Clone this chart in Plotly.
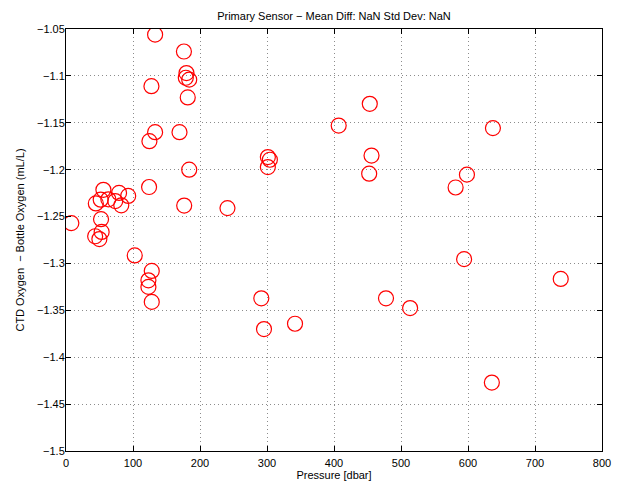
import plotly.graph_objects as go

pressure = [8, 44.5, 55.8, 51.8, 63.2, 79.2, 73.5, 82.5, 92.8, 52.3, 43.5, 53.2, 49.8,
            102.6, 124, 124.5, 183.9, 176.4, 128, 123, 123, 128,
            133, 176, 179.8, 178.8, 183.9, 127.5, 181.7, 133, 169.4,
            453.4, 407, 637.2, 301.3, 304.3, 301.3, 456, 452.5, 598.4, 581.5, 241,
            594.2, 291.5, 477.6, 513.6, 295.5, 341.8, 635.6, 738.4]
diff = [-1.257, -1.236, -1.2215, -1.232, -1.2316, -1.2248, -1.2335, -1.238, -1.228,
        -1.2528, -1.271, -1.2664, -1.274,
        -1.2915, -1.2185, -1.1696, -1.2, -1.2383, -1.308, -1.318, -1.325, -1.341,
        -1.056, -1.074, -1.097, -1.102, -1.104, -1.111, -1.123, -1.160, -1.160,
        -1.1298, -1.153, -1.1557, -1.1866, -1.1894, -1.1972, -1.185, -1.2043, -1.2053,
        -1.219, -1.241, -1.2954, -1.3372, -1.3372, -1.3476, -1.370, -1.3643, -1.427, -1.3165]

x_ticks = [0, 100, 200, 300, 400, 500, 600, 700, 800]
y_ticks = [-1.5, -1.45, -1.4, -1.35, -1.3, -1.25, -1.2, -1.15, -1.1, -1.05]
y_labels = ["\u22121.5", "\u22121.45", "\u22121.4", "\u22121.35", "\u22121.3", "\u22121.25",
            "\u22121.2", "\u22121.15", "\u22121.1", "\u22121.05"]

fig = go.Figure(go.Scatter(
    x=pressure, y=diff, mode="markers",
    marker=dict(symbol="circle-open", size=15, color="#ff0000", line=dict(width=1.2, color="#ff0000")),
    cliponaxis=True, showlegend=False))

font = dict(family="Liberation Sans, Arial, sans-serif", size=11, color="#000000")
axis_common = dict(
    showline=True, linecolor="#000000", linewidth=1, mirror="allticks",
    ticks="inside", ticklen=5, tickcolor="#000000", tickwidth=1,
    showgrid=True, gridcolor="#8c8c8c", gridwidth=1, griddash="1px,3px",
    zeroline=False, tickfont=font, automargin=False)

fig.update_xaxes(range=[0, 800], tickvals=x_ticks, ticktext=[str(v) for v in x_ticks],
                 ticklabelstandoff=2,
                 title=dict(text="Pressure [dbar]", font=font, standoff=0), **axis_common)
fig.update_yaxes(range=[-1.5, -1.05], tickvals=y_ticks, ticktext=y_labels,
                 ticklabelstandoff=-2,
                 title=dict(text="CTD Oxygen  \u2212 Bottle Oxygen (mL/L)", font=font, standoff=10),
                 **axis_common)

# The page adds an 8 px body margin, so the figure is sized to fit the window.
fig.update_layout(
    width=621, height=478,
    margin=dict(l=58, r=27, t=21, b=35),
    paper_bgcolor="#ffffff", plot_bgcolor="#ffffff",
    font=font,
    title=dict(text="Primary Sensor \u2212 Mean Diff: NaN Std Dev: NaN", font=font,
               x=0.5, xref="paper", xanchor="center", y=1, yref="paper", yanchor="bottom",
               pad=dict(b=9)),
)

fig.write_html("out.html")
